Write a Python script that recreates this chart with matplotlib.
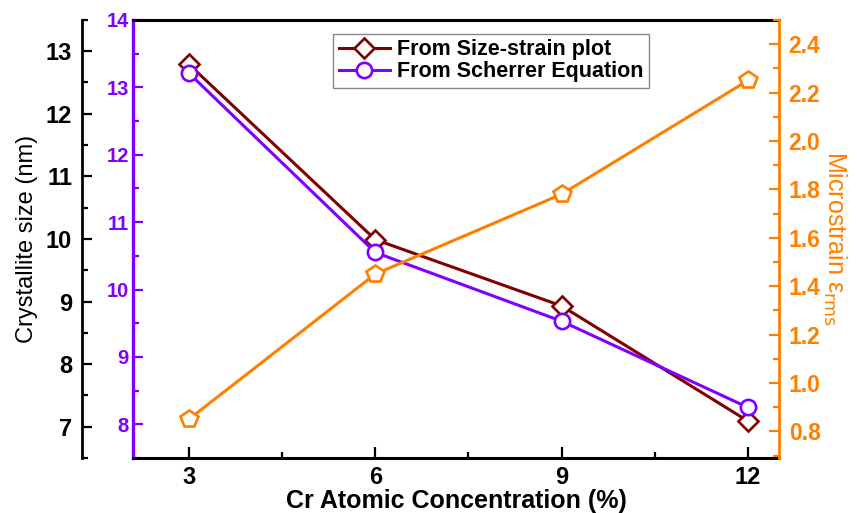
import matplotlib
matplotlib.use("Agg")
import matplotlib.pyplot as plt
from matplotlib.ticker import MultipleLocator

plt.rcParams['font.family'] = ['Liberation Sans', 'DejaVu Sans']

# Cr concentration (%)
cr_conc = [3, 6, 9, 12]
# Crystallite size (nm)
size_strain_plot = [12.79, 9.99, 8.93, 7.09]
scherrer_eq = [13.21, 10.55, 9.53, 8.25]
# Microstrain
microstrain = [0.85, 1.45, 1.78, 2.25]

x_ticks = [3, 6, 9, 12]

maroon = '#800000'
violet = '#7F00FF'
orange = '#FF8000'

fig = plt.figure(figsize=(8.57, 5.13), dpi=100)
ax = fig.add_axes([0.1552, 0.1072, 0.7538, 0.854])   # violet axis (frame)
ax_size = ax.twinx()                                  # outer black axis
ax_strain = ax.twinx()                                # orange right axis

ax_size.set_zorder(1)
ax.set_zorder(2)
ax_strain.set_zorder(3)
ax.patch.set_visible(False)

lw = 2.2
mew = 1.9

# Size-strain plot values on the outer black axis
l1, = ax_size.plot(cr_conc, size_strain_plot, color=maroon, lw=lw, marker='D',
                   ms=10, mfc='white', mec=maroon, mew=mew,
                   label='From Size-strain plot')
# Scherrer values on the violet axis
l2, = ax.plot(cr_conc, scherrer_eq, color=violet, lw=lw, marker='o',
              ms=11, mfc='white', mec=violet, mew=mew,
              label='From Scherrer Equation')
# Microstrain on the orange axis
ax_strain.plot(cr_conc, microstrain, color=orange, lw=lw, marker='p',
               ms=13, mfc='white', mec=orange, mew=mew)

# x axis
ax.set_xlim(2.1, 12.5)
ax.set_xticks(x_ticks)
ax.xaxis.set_minor_locator(MultipleLocator(1.5))
ax.set_xlabel('Cr Atomic Concentration (%)', fontsize=18, fontweight='bold',
              labelpad=0)

# violet axis
ax.set_ylim(7.5, 14)
ax.yaxis.set_major_locator(MultipleLocator(1))
ax.yaxis.set_minor_locator(MultipleLocator(0.5))
ax.tick_params(axis='y', which='both', direction='in', colors=violet,
               labelsize=14.5, width=1.6, pad=3)
ax.tick_params(axis='y', which='major', length=7)
ax.tick_params(axis='y', which='minor', length=4)
for t in ax.get_yticklabels():
    t.set_fontweight('bold')
ax.tick_params(axis='x', which='both', direction='in', colors='black',
               labelsize=17, width=1.6, pad=6)
ax.tick_params(axis='x', which='major', length=8)
ax.tick_params(axis='x', which='minor', length=4.5)
for t in ax.get_xticklabels():
    t.set_fontweight('bold')
ax.spines['left'].set_color(violet)
ax.spines['left'].set_linewidth(2.4)
ax.spines['bottom'].set_linewidth(2.2)
ax.spines['top'].set_linewidth(2.2)
ax.spines['right'].set_visible(False)

# outer black axis
ax_size.set_ylim(6.5, 13.5)
ax_size.yaxis.set_label_position('left')
ax_size.yaxis.tick_left()
ax_size.spines['left'].set_position(('axes', -0.079))
ax_size.spines['left'].set_linewidth(2.0)
for s in ('right', 'top', 'bottom'):
    ax_size.spines[s].set_visible(False)
ax_size.yaxis.set_major_locator(MultipleLocator(1))
ax_size.yaxis.set_minor_locator(MultipleLocator(0.5))
ax_size.tick_params(axis='y', which='both', direction='in', colors='black',
                    labelsize=17, width=1.6, pad=7)
ax_size.tick_params(axis='y', which='major', length=7)
ax_size.tick_params(axis='y', which='minor', length=4.5)
for t in ax_size.get_yticklabels():
    t.set_fontweight('bold')
ax_size.set_ylabel('Crystallite size (nm)', fontsize=17, labelpad=6)

# orange right axis
ax_strain.set_ylim(0.69, 2.5)
ax_strain.yaxis.set_major_locator(MultipleLocator(0.2))
ax_strain.yaxis.set_minor_locator(MultipleLocator(0.1))
ax_strain.yaxis.set_major_formatter(plt.FormatStrFormatter('%.1f'))
ax_strain.tick_params(axis='y', which='both', direction='in', colors=orange,
                      labelsize=16.5, width=1.6, pad=7)
ax_strain.tick_params(axis='y', which='major', length=7)
ax_strain.tick_params(axis='y', which='minor', length=4)
for t in ax_strain.get_yticklabels():
    t.set_fontweight('bold')
for s in ('left', 'top', 'bottom'):
    ax_strain.spines[s].set_visible(False)
ax_strain.spines['right'].set_color(orange)
ax_strain.spines['right'].set_linewidth(2.0)
ax_strain.set_ylabel('Microstrain ε$_{\\mathrm{rms}}$', color=orange,
                     fontsize=18, rotation=-90, labelpad=20)

leg = ax_strain.legend(handles=[l1, l2], loc='upper left',
                       bbox_to_anchor=(0.31, 0.968), borderaxespad=0,
                       frameon=True, fancybox=False, framealpha=1,
                       edgecolor='#888888', handlelength=2.4,
                       handletextpad=0.3, borderpad=0.25, labelspacing=0.05,
                       prop={'weight': 'bold', 'size': 15.5})
leg.get_frame().set_linewidth(1.0)

fig.savefig('out.png', dpi=100, facecolor='white')
